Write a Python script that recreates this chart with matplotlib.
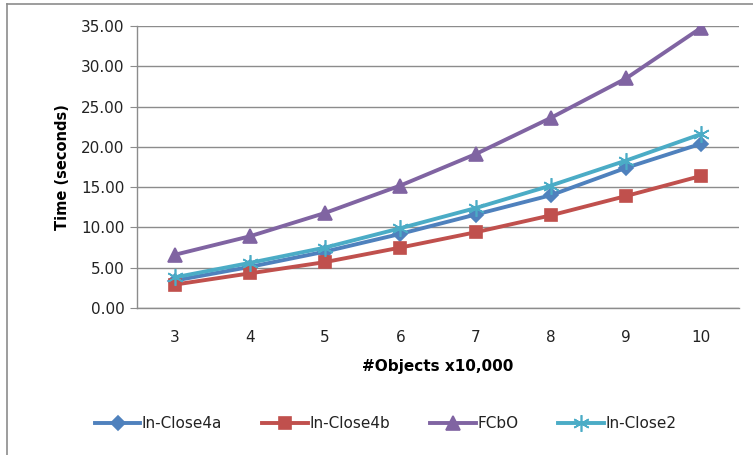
import matplotlib
matplotlib.use('Agg')
from matplotlib import pyplot as plt
from matplotlib.lines import Line2D

# timings
objects = [3, 4, 5, 6, 7, 8, 9, 10]
inclose4a = [3.4, 5.1, 7.0, 9.2, 11.6, 14.0, 17.4, 20.4]
inclose4b = [2.9, 4.3, 5.7, 7.5, 9.4, 11.5, 13.9, 16.4]
fcbo = [6.6, 8.9, 11.8, 15.2, 19.1, 23.6, 28.5, 34.8]
inclose2 = [3.8, 5.6, 7.5, 9.9, 12.4, 15.2, 18.3, 21.6]
y_ticks = [0, 5, 10, 15, 20, 25, 30, 35]

plt.rcParams['font.family'] = ['Verdana', 'DejaVu Sans']

fig = plt.figure(figsize=(7.53, 4.55), dpi=100)
ax = fig.add_axes([137/753, 1 - 308/455, (739-137)/753, (308-26)/455])

series = [
    ('In-Close4a', inclose4a, '#4F81BD', 'D', 7),
    ('In-Close4b', inclose4b, '#C0504D', 's', 9),
    ('FCbO', fcbo, '#8064A2', '^', 10),
    ('In-Close2', inclose2, '#4BACC6', (6, 2, 0), 12),
]
for name, vals, col, mk, ms in series:
    ax.plot(objects, vals, color=col, lw=2.8, marker=mk, ms=ms,
            markeredgecolor=col, markerfacecolor=col, markeredgewidth=1.2,
            label=name, zorder=3)

ax.set_xlim(2.5, 10.5)
ax.set_ylim(0, 35)
ax.set_xticks(objects)
ax.set_yticks(y_ticks)
ax.set_yticklabels(['%.2f' % v for v in y_ticks])
ax.grid(axis='y', color='#8c8c8c', lw=1)
ax.set_axisbelow(True)
for s in ['top', 'right']:
    ax.spines[s].set_visible(False)
for s in ['left', 'bottom']:
    ax.spines[s].set_color('#8c8c8c')
    ax.spines[s].set_linewidth(1)
ax.tick_params(axis='y', length=5, color='#8c8c8c', labelsize=11, pad=4,
               labelcolor='#222222')
ax.tick_params(axis='x', length=0, labelsize=11, pad=16, labelcolor='#222222')

ax.set_xlabel('#Objects x10,000', fontsize=11, fontweight='bold', labelpad=10)
ax.set_ylabel('Time (seconds)', fontsize=10.5, fontweight='bold', labelpad=8)

leg = fig.legend(loc='center', bbox_to_anchor=(0.512, 1 - 424/455), ncol=4,
                 frameon=False, fontsize=11, handlelength=3.0, columnspacing=2.6,
                 handletextpad=0.1)
for t in leg.get_texts():
    t.set_color('#222222')

# outer chart frame (left and top edges visible)
fig.add_artist(Line2D([7/753, 7/753], [0, 1 - 4/455], color='#8c8c8c', lw=1.2))
fig.add_artist(Line2D([7/753, 1], [1 - 4/455, 1 - 4/455], color='#8c8c8c', lw=1.2))

fig.savefig('out.png', dpi=100)
